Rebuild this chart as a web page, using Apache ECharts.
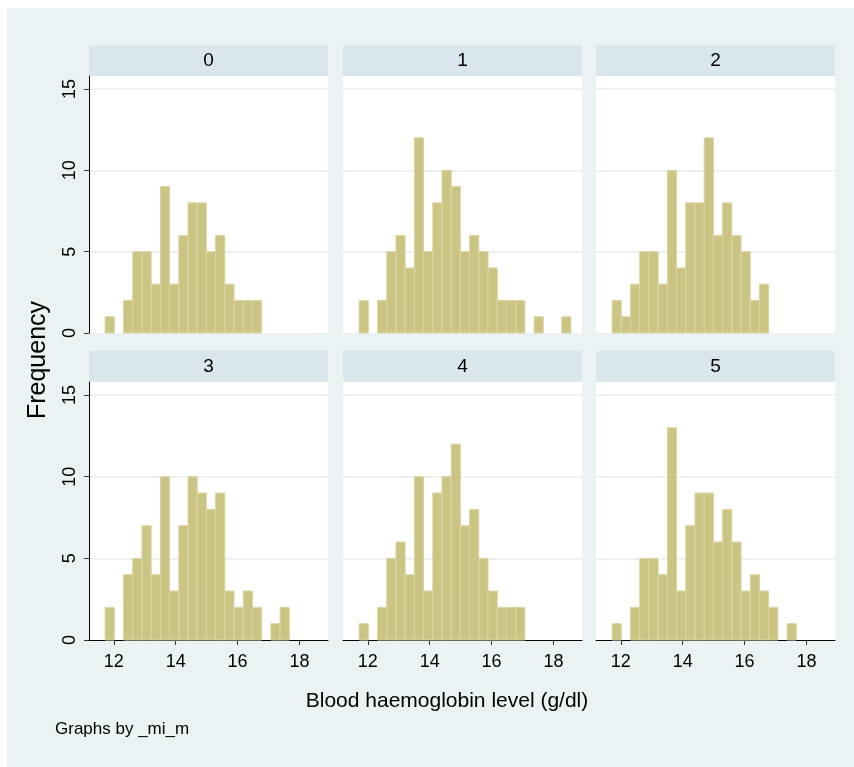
<!DOCTYPE html>
<html>
<head>
<meta charset="utf-8">
<script src="https://cdn.jsdelivr.net/npm/echarts@6/dist/echarts.min.js"></script>
<style>
  html, body { margin: 0; padding: 0; background: #ffffff; }
  #chart { width: 854px; height: 767px; }
</style>
</head>
<body>
<div id="chart"></div>
<script>
// Imputation numbers (_mi_m), one panel each
const imputations = ['0', '1', '2', '3', '4', '5'];

// Histogram bins shared by all panels (g/dl)
const binStart = 11.72;
const binWidth = 0.2975;

// Frequencies per bin, one array per imputation
const freq0 = [1, 0, 2, 5, 5, 3, 9, 3, 6, 8, 8, 5, 6, 3, 2, 2, 2, 0, 0, 0, 0, 0, 0];
const freq1 = [2, 0, 2, 5, 6, 4, 12, 5, 8, 10, 9, 5, 6, 5, 4, 2, 2, 2, 0, 1, 0, 0, 1];
const freq2 = [2, 1, 3, 5, 5, 3, 10, 4, 8, 8, 12, 6, 8, 6, 5, 2, 3, 0, 0, 0, 0, 0, 0];
const freq3 = [2, 0, 4, 5, 7, 4, 10, 3, 7, 10, 9, 8, 9, 3, 2, 3, 2, 0, 1, 2, 0, 0, 0];
const freq4 = [1, 0, 2, 5, 6, 4, 10, 3, 9, 10, 12, 7, 8, 5, 3, 2, 2, 2, 0, 0, 0, 0, 0];
const freq5 = [1, 0, 2, 5, 5, 4, 13, 3, 7, 9, 9, 6, 8, 6, 3, 4, 3, 2, 0, 1, 0, 0, 0];

// Axis ticks
const xTicks = [12, 14, 16, 18];
const yTicks = [0, 5, 10, 15];
const xRange = [11.2, 18.92];
const yRange = [0, 15.8];

const panelFreqs = [freq0, freq1, freq2, freq3, freq4, freq5];

// Panel geometry (pixels)
const colLeft = [89, 343, 596];
const panelWidth = 239;
const rows = [
  { stripTop: 45, plotTop: 76, plotBottom: 333 },
  { stripTop: 351, plotTop: 382, plotBottom: 640 }
];
const stripHeight = 31;

const BG = '#eaf2f3';
const STRIP = '#d9e6eb';
const BAR_FILL = '#cbc483';
const BAR_EDGE = '#dcd6a4';
const FONT = '"Liberation Sans", Arial, Helvetica, sans-serif';

const grids = [], xAxes = [], yAxes = [], series = [], graphics = [];

// Outer background
graphics.push({
  type: 'rect', shape: { x: 7, y: 8, width: 847, height: 759 },
  style: { fill: BG }, silent: true, z: -10
});

panelFreqs.forEach((freqs, i) => {
  const r = Math.floor(i / 3), c = i % 3;
  const row = rows[r];
  const left = colLeft[c];
  grids.push({
    left: left, top: row.plotTop, width: panelWidth,
    height: row.plotBottom - row.plotTop,
    show: true, backgroundColor: '#ffffff', borderWidth: 0
  });
  const bottomRow = r === 1;
  xAxes.push({
    type: 'value', gridIndex: i, min: xRange[0], max: xRange[1],
    show: bottomRow,
    axisLine: { show: bottomRow, onZero: false, lineStyle: { color: '#000000', width: 1 } },
    axisTick: { show: bottomRow, customValues: xTicks, length: 5, lineStyle: { color: '#333333' } },
    axisLabel: { show: bottomRow, customValues: xTicks, margin: 13, fontSize: 18, color: '#000000', fontFamily: FONT },
    splitLine: { show: false }
  });
  const firstCol = c === 0;
  yAxes.push({
    type: 'value', gridIndex: i, min: yRange[0], max: yRange[1], interval: 5,
    axisLine: { show: firstCol, lineStyle: { color: '#000000', width: 1 } },
    axisTick: { show: firstCol, customValues: yTicks, length: 5, lineStyle: { color: '#333333' } },
    axisLabel: { show: firstCol, customValues: yTicks, rotate: 90, margin: 10, fontSize: 18, color: '#000000', fontFamily: FONT },
    splitLine: { show: true, showMinLine: false, lineStyle: { color: BG, width: 2 } }
  });
  const data = freqs.map((n, k) => [binStart + k * binWidth, binStart + (k + 1) * binWidth, n])
                    .filter(d => d[2] > 0);
  series.push({
    type: 'custom', xAxisIndex: i, yAxisIndex: i, data: data,
    encode: { x: [0, 1], y: 2 },
    renderItem: function (params, api) {
      const p0 = api.coord([api.value(0), api.value(2)]);
      const p1 = api.coord([api.value(1), 0]);
      return {
        type: 'rect',
        shape: { x: p0[0], y: p0[1], width: p1[0] - p0[0], height: p1[1] - p0[1] },
        style: { fill: BAR_FILL, stroke: BAR_EDGE, lineWidth: 1 }
      };
    }
  });
  // Panel header strip
  graphics.push({
    type: 'group', silent: true,
    children: [
      { type: 'rect', shape: { x: left, y: row.stripTop, width: panelWidth, height: stripHeight }, style: { fill: STRIP } },
      { type: 'text', x: left + panelWidth / 2, y: row.stripTop + stripHeight / 2,
        style: { text: imputations[i], fill: '#000000', font: '19px ' + FONT, align: 'center', verticalAlign: 'middle' } }
    ]
  });
});

// Titles and note
graphics.push({
  type: 'text', x: 38, y: 360, rotation: Math.PI / 2, silent: true,
  style: { text: 'Frequency', fill: '#000000', font: '25px ' + FONT, align: 'center', verticalAlign: 'middle' }
});
graphics.push({
  type: 'text', x: 447, y: 701, silent: true,
  style: { text: 'Blood haemoglobin level (g/dl)', fill: '#000000', font: '21px ' + FONT, align: 'center', verticalAlign: 'middle' }
});
graphics.push({
  type: 'text', x: 55, y: 729, silent: true,
  style: { text: 'Graphs by _mi_m', fill: '#000000', font: '17px ' + FONT, align: 'left', verticalAlign: 'middle' }
});

const chart = echarts.init(document.getElementById('chart'), null, { renderer: 'canvas' });
chart.setOption({
  animation: false,
  backgroundColor: '#ffffff',
  grid: grids,
  xAxis: xAxes,
  yAxis: yAxes,
  series: series,
  graphic: { elements: graphics }
});
</script>
</body>
</html>
